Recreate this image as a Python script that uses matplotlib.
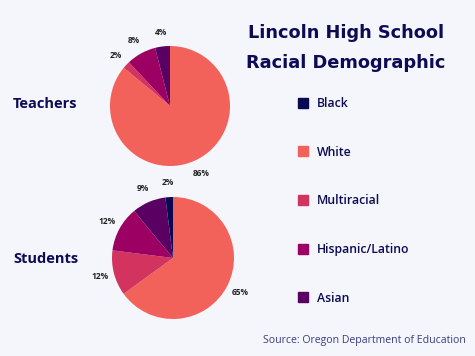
import matplotlib.pyplot as plt
from matplotlib.lines import Line2D

# data
categories = ['White', 'Multiracial', 'Hispanic/Latino', 'Asian', 'Black']
teachers = [86, 2, 8, 4, 0]
students = [65, 12, 12, 9, 2]
legend_order = ['Black', 'White', 'Multiracial', 'Hispanic/Latino', 'Asian']

colors = {
    'Black': '#0A0A52',
    'White': '#F2625A',
    'Multiracial': '#D2335F',
    'Hispanic/Latino': '#9B0062',
    'Asian': '#5A0063',
}
navy = '#0D0B55'
bg = '#F5F6FB'

W, H = 475, 356
fig = plt.figure(figsize=(W / 100, H / 100), dpi=100, facecolor=bg)


def pie_axes(cx, cy, r):
    # square axes in pixel units around a pie centre
    return fig.add_axes([(cx - r) / W, 1 - (cy + r) / H, 2 * r / W, 2 * r / H])


def draw_pie(ax, values):
    vals = [v for v in values if v > 0]
    cols = [colors[c] for c, v in zip(categories, values) if v > 0]
    ax.pie(vals, colors=cols, startangle=90, counterclock=False,
           labels=[f'{v}%' for v in vals], labeldistance=1.24,
           textprops=dict(fontsize=6, fontweight='bold', color='#222222',
                          family='Open Sans', ha='center', va='center'),
           wedgeprops=dict(linewidth=0))
    ax.set_xlim(-1, 1)
    ax.set_ylim(-1, 1)
    ax.set_aspect('equal')
    ax.axis('off')


draw_pie(pie_axes(170, 106, 60), teachers)
draw_pie(pie_axes(173, 258, 61), students)

fig.text(13 / W, 1 - 104 / H, 'Teachers', fontsize=10.5, fontweight='bold',
         color=navy, family='Open Sans', va='center', ha='left')
fig.text(13 / W, 1 - 259 / H, 'Students', fontsize=10.5, fontweight='bold',
         color=navy, family='Open Sans', va='center', ha='left')

fig.text(346 / W, 1 - 33 / H, 'Lincoln High School', fontsize=12.8,
         fontweight='bold', color=navy, family='DejaVu Sans', ha='center', va='center')
fig.text(346 / W, 1 - 63 / H, 'Racial Demographic', fontsize=12.8,
         fontweight='bold', color=navy, family='DejaVu Sans', ha='center', va='center')

handles = [Line2D([], [], linestyle='none', marker='s', markersize=6.5,
                  markerfacecolor=colors[c], markeredgecolor=colors[c])
           for c in legend_order]
leg = fig.legend(handles, legend_order, loc='upper left',
                 bbox_to_anchor=(286 / W, 1 - 86 / H), frameon=False,
                 labelspacing=2.92, handletextpad=0.55, handlelength=1.05,
                 prop=dict(family='Open Sans', size=8.8, weight='semibold'))
for t in leg.get_texts():
    t.set_color(navy)

fig.text(364 / W, 1 - 341 / H, 'Source: Oregon Department of Education',
         fontsize=7.6, color='#3A3D85', family='Open Sans', ha='center', va='center')

fig.savefig('out.png', dpi=100, facecolor=bg)
